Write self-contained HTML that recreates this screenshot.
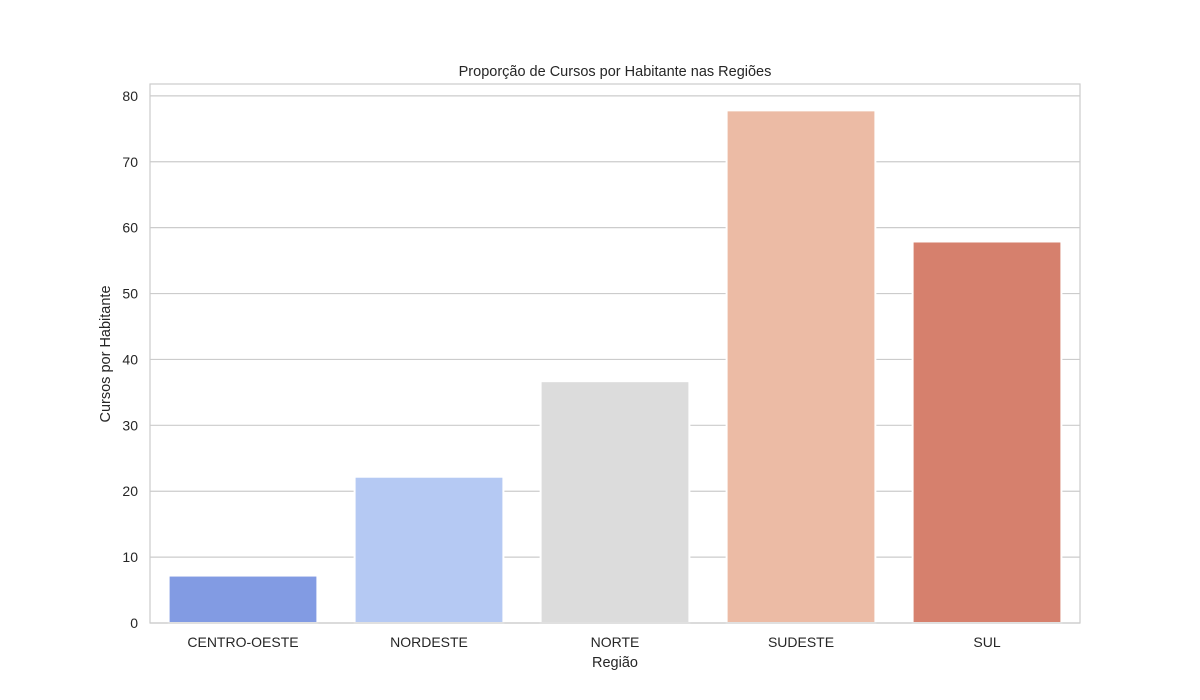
<!DOCTYPE html>
<html><head><meta charset="utf-8"><style>
body{margin:0;background:#fff;}
svg{display:block;font-family:"Liberation Sans","DejaVu Sans",sans-serif;}
</style></head><body>
<svg id="chart" width="1200" height="700">
<rect width="1200" height="700" fill="#fff"/>
<text x="615" y="76" text-anchor="middle" font-size="14.5" fill="#262626">Proporção de Cursos por Habitante nas Regiões</text>
<g id="grid"></g><g id="bars"></g><g id="ticks"></g>
<rect x="150" y="84" width="930" height="539" fill="none" stroke="#cccccc" stroke-width="1.2"/>
<text x="615" y="667" text-anchor="middle" font-size="14.5" fill="#262626">Região</text>
<text transform="translate(110,354) rotate(-90)" text-anchor="middle" font-size="14.5" fill="#262626">Cursos por Habitante</text>
</svg>
<script>
const categories=["CENTRO-OESTE","NORDESTE","NORTE","SUDESTE","SUL"];
const values=[7.2,22.2,36.7,77.8,57.9];
const colors=["#829be3","#b5c9f3","#dcdcdc","#ecbba5","#d6806d"];
const yTicks=[0,10,20,30,40,50,60,70,80];
const L=150,R=1080,T=84,B=623,yMax=81.8;
const NS="http://www.w3.org/2000/svg";
function y(v){return B-(v/yMax)*(B-T);}
function x(i){return L+(R-L)/categories.length*(i+0.5);}
const bw=(R-L)/categories.length*0.8;
const grid=document.getElementById('grid'),bars=document.getElementById('bars'),ticks=document.getElementById('ticks');
yTicks.forEach(t=>{
 const l=document.createElementNS(NS,'line');
 l.setAttribute('x1',L);l.setAttribute('x2',R);l.setAttribute('y1',y(t));l.setAttribute('y2',y(t));
 l.setAttribute('stroke','#cccccc');l.setAttribute('stroke-width','1.2');
 
 
 grid.appendChild(l);
 const tx=document.createElementNS(NS,'text');
 tx.setAttribute('x',L-12);tx.setAttribute('y',y(t)+5);tx.setAttribute('text-anchor','end');
 tx.setAttribute('font-size','14');tx.setAttribute('fill','#262626');tx.textContent=t;
 
 
 ticks.appendChild(tx);
});
categories.forEach((c,i)=>{
 const r=document.createElementNS(NS,'rect');
 r.setAttribute('x',x(i)-bw/2);r.setAttribute('width',bw);
 r.setAttribute('y',y(values[i]));r.setAttribute('height',B-y(values[i]));
 r.setAttribute('fill',colors[i]);r.setAttribute('stroke','#ffffff');r.setAttribute('stroke-width','2');
 
 
 bars.appendChild(r);
 const tx=document.createElementNS(NS,'text');
 tx.setAttribute('x',x(i));tx.setAttribute('y',B+24);tx.setAttribute('text-anchor','middle');
 tx.setAttribute('font-size','14');tx.setAttribute('fill','#262626');tx.textContent=c;
 
 
 ticks.appendChild(tx);
});
</script>
</body></html>
